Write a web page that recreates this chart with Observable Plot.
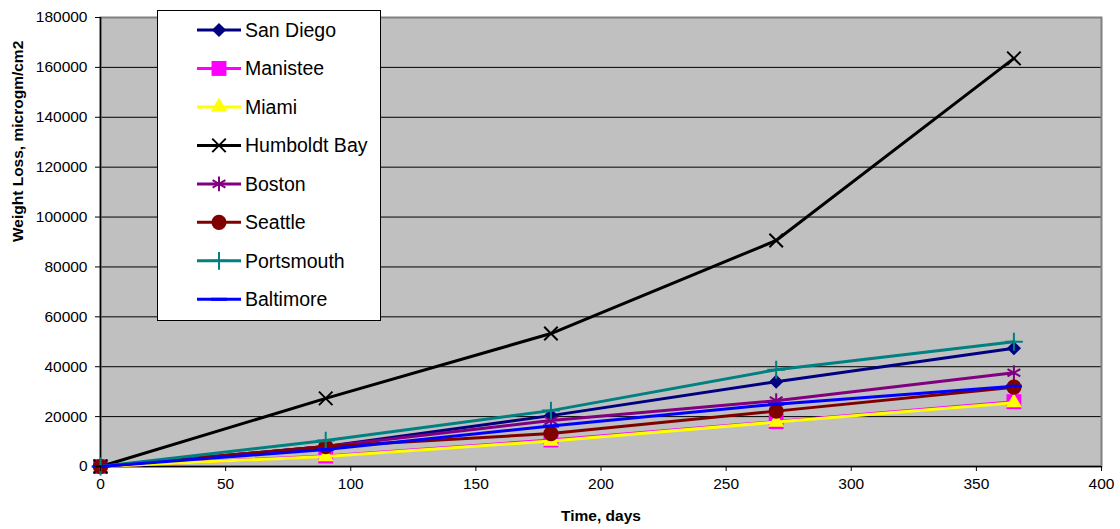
<!DOCTYPE html>
<html><head><meta charset="utf-8">
<script src="https://cdn.jsdelivr.net/npm/d3@7"></script>
<script src="https://cdn.jsdelivr.net/npm/@observablehq/plot@0.6"></script>
<style>
body{margin:0;background:#fff;}
#wrap{position:relative;width:1120px;height:529px;font-family:"Liberation Sans",Arial,sans-serif;}
#legend{position:absolute;left:157px;top:10px;}
</style></head><body><div id="wrap"></div>
<script>
// ---- data ----
const days = [0, 90, 180, 270, 365];
const sanDiego    = [0, 8000, 20400, 34000, 47400];
const manistee    = [0, 4200, 10600, 18000, 26000];
const miami       = [0, 4000, 10200, 17800, 25600];
const humboldtBay = [0, 27300, 53300, 90600, 163600];
const boston      = [0, 8000, 18400, 26400, 37600];
const seattle     = [0, 8000, 13200, 22200, 31800];
const portsmouth  = [0, 10400, 22400, 38800, 50000];
const baltimore   = [0, 6800, 16200, 25000, 32200];
const cityNames = ["San Diego","Manistee","Miami","Humboldt Bay","Boston","Seattle","Portsmouth","Baltimore"];
const xTicks = [0, 50, 100, 150, 200, 250, 300, 350, 400];
const yTicks = [0, 20000, 40000, 60000, 80000, 100000, 120000, 140000, 160000, 180000];

const symbolDash = {draw(ctx, size){const r = Math.sqrt(size/Math.PI); ctx.moveTo(-r,0); ctx.lineTo(r,0);}};

const styles = [
  {color:"#000080", symbol:d3.symbolDiamond2, filled:true, r:6.4},
  {color:"#FF00FF", symbol:d3.symbolSquare, filled:true, r:8.4},
  {color:"#FFFF00", symbol:d3.symbolTriangle, filled:true, r:6},
  {color:"#000000", symbol:d3.symbolTimes, filled:false, r:6.2, sw:2},
  {color:"#800080", symbol:d3.symbolAsterisk, filled:false, r:7, sw:2},
  {color:"#800000", symbol:d3.symbolCircle, filled:true, r:7.6},
  {color:"#008080", symbol:d3.symbolPlus, filled:false, r:5.8, sw:2},
  {color:"#0000FF", symbol:symbolDash, filled:false, r:8, sw:3}
];
const valueArrays = [sanDiego, manistee, miami, humboldtBay, boston, seattle, portsmouth, baltimore];
const series = cityNames.map((name, i) => ({
  name, ...styles[i],
  data: days.map((d, j) => ({day: d, value: valueArrays[i][j], city: name}))
}));

const fontSize = 15.5;
const marks = [
  Plot.frame({fill:"#C0C0C0"}),
  Plot.ruleY(yTicks.filter(v => v > 0 && v < 180000), {stroke:"#000", strokeWidth:1}),
  Plot.frame({stroke:"#808080", strokeWidth:2}),
  Plot.ruleX([0], {stroke:"#000", strokeWidth:1.5}),
  Plot.ruleY([0], {stroke:"#000", strokeWidth:1.5}),
];
for (const s of series) {
  marks.push(Plot.line(s.data, {x:"day", y:"value", stroke:s.color, strokeWidth:3}));
  marks.push(Plot.dot(s.data, {
    x:"day", y:"value", symbol:s.symbol, r:s.r,
    fill: s.filled ? s.color : "none",
    stroke: s.filled ? "none" : s.color,
    strokeWidth: s.sw || 1
  }));
}
marks.push(
  Plot.axisY({ticks:yTicks, tickSize:5, tickPadding:8, tickFormat:d3.format("d"), fontSize, label:null, stroke:"#000"}),
  Plot.axisX({ticks:xTicks, tickSize:5, tickPadding:6, tickFormat:d3.format("d"), fontSize, label:null, stroke:"#000"}),
  Plot.text(["Weight Loss, microgm/cm2"], {frameAnchor:"left", dx:-82, rotate:-90, fontWeight:"bold", fontSize, fill:"#000"}),
  Plot.text(["Time, days"], {frameAnchor:"bottom", dy:54, fontWeight:"bold", fontSize, fill:"#000"})
);

const chart = Plot.plot({
  width:1120, height:529,
  marginLeft:100, marginRight:19, marginTop:17, marginBottom:63,
  x:{domain:[0,400]},
  y:{domain:[0,180000]},
  style:{fontFamily:'"Liberation Sans", Arial, sans-serif', color:"#000", background:"#fff", overflow:"visible"},
  marks
});
const wrap = document.getElementById("wrap");
wrap.appendChild(chart);

// ---- legend ----
const lg = d3.select(wrap).append("svg").attr("id","legend")
  .attr("width", 225).attr("height", 312);
lg.append("rect").attr("x",0.5).attr("y",0.5).attr("width",223).attr("height",310)
  .attr("fill","#fff").attr("stroke","#000").attr("stroke-width",1);
series.forEach((s, i) => {
  const y = 20 + i * 38.47;
  const g = lg.append("g").attr("transform", `translate(0,${y})`);
  g.append("line").attr("x1",40).attr("x2",84).attr("y1",0).attr("y2",0)
    .attr("stroke", s.color).attr("stroke-width",3);
  g.append("path").attr("transform","translate(62,0)")
    .attr("d", d3.symbol(s.symbol, Math.PI * s.r * s.r)())
    .attr("fill", s.filled ? s.color : "none")
    .attr("stroke", s.filled ? "none" : s.color)
    .attr("stroke-width", s.sw || 1);
  g.append("text").attr("x",88).attr("y",0).attr("dy","0.35em")
    .attr("font-size",19.5).attr("font-family",'"Liberation Sans", Arial, sans-serif')
    .attr("fill","#000").text(s.name);
});
</script></body></html>
